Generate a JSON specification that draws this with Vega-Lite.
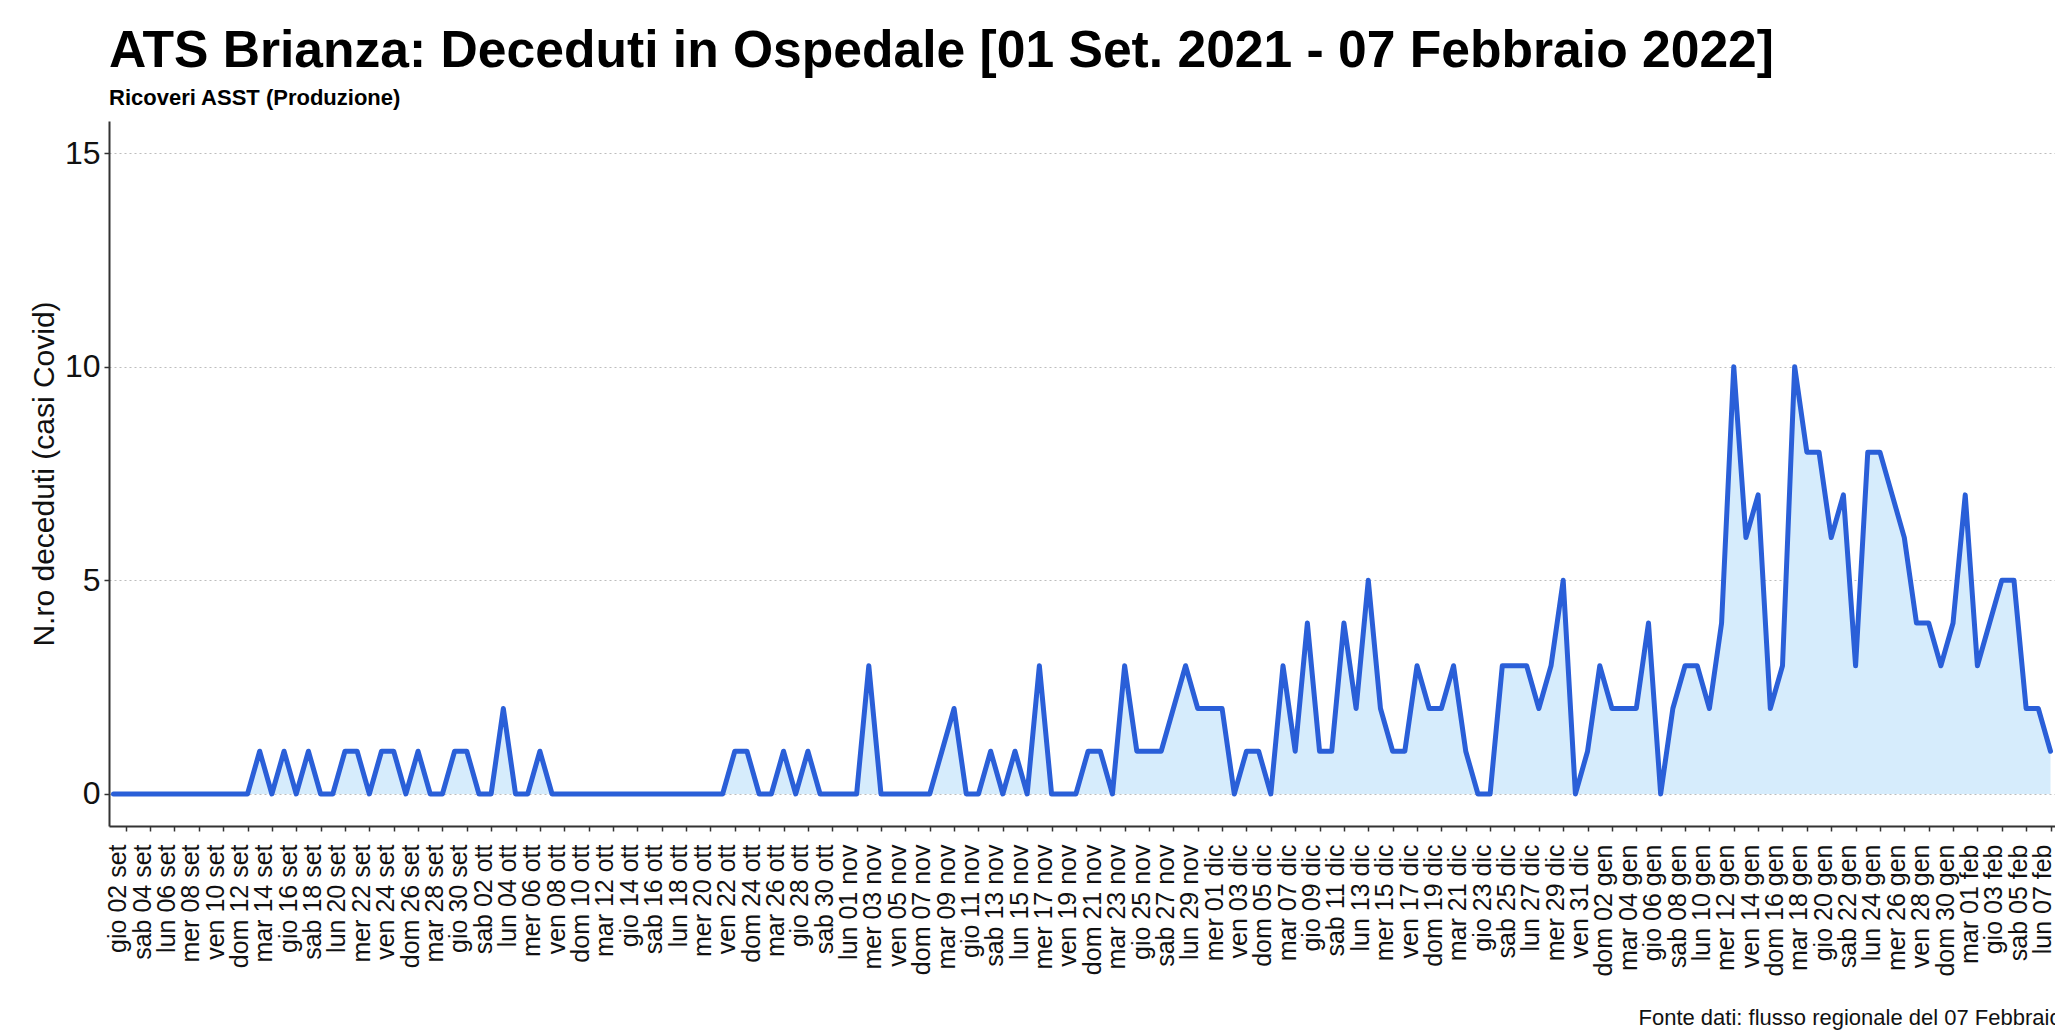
{
"$schema": "https://vega.github.io/schema/vega-lite/v6.json",
"autosize": {"type": "none"},
"padding": {"left": 109, "top": 121, "right": 0, "bottom": 210},
"width": 1946,
"height": 705,
"background": "white",
"config": {"view": {"stroke": null}, "font": "Liberation Sans"},
"title": {"text": "ATS Brianza: Deceduti in Ospedale [01 Set. 2021 - 07 Febbraio 2022]", "subtitle": "Ricoveri ASST (Produzione)", "anchor": "start", "frame": "group", "fontSize": 51.6, "fontWeight": "bold", "color": "#000000", "subtitleFontSize": 22, "subtitleFontWeight": "bold", "subtitleColor": "#000000", "subtitleFont": "Liberation Sans", "font": "Liberation Sans", "offset": 12, "subtitlePadding": 10},
"data": {"values": [
{"giorno":"mer 01 set","deceduti":0},{"giorno":"gio 02 set","deceduti":0},{"giorno":"ven 03 set","deceduti":0},{"giorno":"sab 04 set","deceduti":0},{"giorno":"dom 05 set","deceduti":0},{"giorno":"lun 06 set","deceduti":0},{"giorno":"mar 07 set","deceduti":0},{"giorno":"mer 08 set","deceduti":0},{"giorno":"gio 09 set","deceduti":0},{"giorno":"ven 10 set","deceduti":0},
{"giorno":"sab 11 set","deceduti":0},{"giorno":"dom 12 set","deceduti":0},{"giorno":"lun 13 set","deceduti":1},{"giorno":"mar 14 set","deceduti":0},{"giorno":"mer 15 set","deceduti":1},{"giorno":"gio 16 set","deceduti":0},{"giorno":"ven 17 set","deceduti":1},{"giorno":"sab 18 set","deceduti":0},{"giorno":"dom 19 set","deceduti":0},{"giorno":"lun 20 set","deceduti":1},
{"giorno":"mar 21 set","deceduti":1},{"giorno":"mer 22 set","deceduti":0},{"giorno":"gio 23 set","deceduti":1},{"giorno":"ven 24 set","deceduti":1},{"giorno":"sab 25 set","deceduti":0},{"giorno":"dom 26 set","deceduti":1},{"giorno":"lun 27 set","deceduti":0},{"giorno":"mar 28 set","deceduti":0},{"giorno":"mer 29 set","deceduti":1},{"giorno":"gio 30 set","deceduti":1},
{"giorno":"ven 01 ott","deceduti":0},{"giorno":"sab 02 ott","deceduti":0},{"giorno":"dom 03 ott","deceduti":2},{"giorno":"lun 04 ott","deceduti":0},{"giorno":"mar 05 ott","deceduti":0},{"giorno":"mer 06 ott","deceduti":1},{"giorno":"gio 07 ott","deceduti":0},{"giorno":"ven 08 ott","deceduti":0},{"giorno":"sab 09 ott","deceduti":0},{"giorno":"dom 10 ott","deceduti":0},
{"giorno":"lun 11 ott","deceduti":0},{"giorno":"mar 12 ott","deceduti":0},{"giorno":"mer 13 ott","deceduti":0},{"giorno":"gio 14 ott","deceduti":0},{"giorno":"ven 15 ott","deceduti":0},{"giorno":"sab 16 ott","deceduti":0},{"giorno":"dom 17 ott","deceduti":0},{"giorno":"lun 18 ott","deceduti":0},{"giorno":"mar 19 ott","deceduti":0},{"giorno":"mer 20 ott","deceduti":0},
{"giorno":"gio 21 ott","deceduti":0},{"giorno":"ven 22 ott","deceduti":1},{"giorno":"sab 23 ott","deceduti":1},{"giorno":"dom 24 ott","deceduti":0},{"giorno":"lun 25 ott","deceduti":0},{"giorno":"mar 26 ott","deceduti":1},{"giorno":"mer 27 ott","deceduti":0},{"giorno":"gio 28 ott","deceduti":1},{"giorno":"ven 29 ott","deceduti":0},{"giorno":"sab 30 ott","deceduti":0},
{"giorno":"dom 31 ott","deceduti":0},{"giorno":"lun 01 nov","deceduti":0},{"giorno":"mar 02 nov","deceduti":3},{"giorno":"mer 03 nov","deceduti":0},{"giorno":"gio 04 nov","deceduti":0},{"giorno":"ven 05 nov","deceduti":0},{"giorno":"sab 06 nov","deceduti":0},{"giorno":"dom 07 nov","deceduti":0},{"giorno":"lun 08 nov","deceduti":1},{"giorno":"mar 09 nov","deceduti":2},
{"giorno":"mer 10 nov","deceduti":0},{"giorno":"gio 11 nov","deceduti":0},{"giorno":"ven 12 nov","deceduti":1},{"giorno":"sab 13 nov","deceduti":0},{"giorno":"dom 14 nov","deceduti":1},{"giorno":"lun 15 nov","deceduti":0},{"giorno":"mar 16 nov","deceduti":3},{"giorno":"mer 17 nov","deceduti":0},{"giorno":"gio 18 nov","deceduti":0},{"giorno":"ven 19 nov","deceduti":0},
{"giorno":"sab 20 nov","deceduti":1},{"giorno":"dom 21 nov","deceduti":1},{"giorno":"lun 22 nov","deceduti":0},{"giorno":"mar 23 nov","deceduti":3},{"giorno":"mer 24 nov","deceduti":1},{"giorno":"gio 25 nov","deceduti":1},{"giorno":"ven 26 nov","deceduti":1},{"giorno":"sab 27 nov","deceduti":2},{"giorno":"dom 28 nov","deceduti":3},{"giorno":"lun 29 nov","deceduti":2},
{"giorno":"mar 30 nov","deceduti":2},{"giorno":"mer 01 dic","deceduti":2},{"giorno":"gio 02 dic","deceduti":0},{"giorno":"ven 03 dic","deceduti":1},{"giorno":"sab 04 dic","deceduti":1},{"giorno":"dom 05 dic","deceduti":0},{"giorno":"lun 06 dic","deceduti":3},{"giorno":"mar 07 dic","deceduti":1},{"giorno":"mer 08 dic","deceduti":4},{"giorno":"gio 09 dic","deceduti":1},
{"giorno":"ven 10 dic","deceduti":1},{"giorno":"sab 11 dic","deceduti":4},{"giorno":"dom 12 dic","deceduti":2},{"giorno":"lun 13 dic","deceduti":5},{"giorno":"mar 14 dic","deceduti":2},{"giorno":"mer 15 dic","deceduti":1},{"giorno":"gio 16 dic","deceduti":1},{"giorno":"ven 17 dic","deceduti":3},{"giorno":"sab 18 dic","deceduti":2},{"giorno":"dom 19 dic","deceduti":2},
{"giorno":"lun 20 dic","deceduti":3},{"giorno":"mar 21 dic","deceduti":1},{"giorno":"mer 22 dic","deceduti":0},{"giorno":"gio 23 dic","deceduti":0},{"giorno":"ven 24 dic","deceduti":3},{"giorno":"sab 25 dic","deceduti":3},{"giorno":"dom 26 dic","deceduti":3},{"giorno":"lun 27 dic","deceduti":2},{"giorno":"mar 28 dic","deceduti":3},{"giorno":"mer 29 dic","deceduti":5},
{"giorno":"gio 30 dic","deceduti":0},{"giorno":"ven 31 dic","deceduti":1},{"giorno":"sab 01 gen","deceduti":3},{"giorno":"dom 02 gen","deceduti":2},{"giorno":"lun 03 gen","deceduti":2},{"giorno":"mar 04 gen","deceduti":2},{"giorno":"mer 05 gen","deceduti":4},{"giorno":"gio 06 gen","deceduti":0},{"giorno":"ven 07 gen","deceduti":2},{"giorno":"sab 08 gen","deceduti":3},
{"giorno":"dom 09 gen","deceduti":3},{"giorno":"lun 10 gen","deceduti":2},{"giorno":"mar 11 gen","deceduti":4},{"giorno":"mer 12 gen","deceduti":10},{"giorno":"gio 13 gen","deceduti":6},{"giorno":"ven 14 gen","deceduti":7},{"giorno":"sab 15 gen","deceduti":2},{"giorno":"dom 16 gen","deceduti":3},{"giorno":"lun 17 gen","deceduti":10},{"giorno":"mar 18 gen","deceduti":8},
{"giorno":"mer 19 gen","deceduti":8},{"giorno":"gio 20 gen","deceduti":6},{"giorno":"ven 21 gen","deceduti":7},{"giorno":"sab 22 gen","deceduti":3},{"giorno":"dom 23 gen","deceduti":8},{"giorno":"lun 24 gen","deceduti":8},{"giorno":"mar 25 gen","deceduti":7},{"giorno":"mer 26 gen","deceduti":6},{"giorno":"gio 27 gen","deceduti":4},{"giorno":"ven 28 gen","deceduti":4},
{"giorno":"sab 29 gen","deceduti":3},{"giorno":"dom 30 gen","deceduti":4},{"giorno":"lun 31 gen","deceduti":7},{"giorno":"mar 01 feb","deceduti":3},{"giorno":"mer 02 feb","deceduti":4},{"giorno":"gio 03 feb","deceduti":5},{"giorno":"ven 04 feb","deceduti":5},{"giorno":"sab 05 feb","deceduti":2},{"giorno":"dom 06 feb","deceduti":2},{"giorno":"lun 07 feb","deceduti":1}
]},
"encoding": {
  "x": {"field": "giorno", "type": "ordinal", "sort": null, "scale": {"type": "point", "padding": 0.369},
    "axis": {
      "values": ["gio 02 set","sab 04 set","lun 06 set","mer 08 set","ven 10 set","dom 12 set","mar 14 set","gio 16 set","sab 18 set","lun 20 set","mer 22 set","ven 24 set","dom 26 set","mar 28 set","gio 30 set","sab 02 ott","lun 04 ott","mer 06 ott","ven 08 ott","dom 10 ott","mar 12 ott","gio 14 ott","sab 16 ott","lun 18 ott","mer 20 ott","ven 22 ott","dom 24 ott","mar 26 ott","gio 28 ott","sab 30 ott","lun 01 nov","mer 03 nov","ven 05 nov","dom 07 nov","mar 09 nov","gio 11 nov","sab 13 nov","lun 15 nov","mer 17 nov","ven 19 nov","dom 21 nov","mar 23 nov","gio 25 nov","sab 27 nov","lun 29 nov","mer 01 dic","ven 03 dic","dom 05 dic","mar 07 dic","gio 09 dic","sab 11 dic","lun 13 dic","mer 15 dic","ven 17 dic","dom 19 dic","mar 21 dic","gio 23 dic","sab 25 dic","lun 27 dic","mer 29 dic","ven 31 dic","dom 02 gen","mar 04 gen","gio 06 gen","sab 08 gen","lun 10 gen","mer 12 gen","ven 14 gen","dom 16 gen","mar 18 gen","gio 20 gen","sab 22 gen","lun 24 gen","mer 26 gen","ven 28 gen","dom 30 gen","mar 01 feb","gio 03 feb","sab 05 feb","lun 07 feb"],
      "title": "Fonte dati: flusso regionale del 07 Febbraio 2022",
      "titleX": 1529, "titleY": 191, "titleAlign": "left", "titleAnchor": "start", "titleBaseline": "middle", "titleAngle": 0,
      "titleFontSize": 22, "titleFontWeight": "normal", "titleColor": "#111111", "titleFont": "Liberation Sans",
      "labelAngle": 270, "labelAlign": "right", "labelBaseline": "middle", "labelOffset": -8, "labelPadding": 13,
      "labelFontSize": 25, "labelColor": "#111111", "labelFont": "Liberation Sans", "labelOverlap": false, "labelBound": false, "labelFlush": false,
      "tickSize": 5, "tickColor": "#333333", "tickWidth": 1.5, "domainColor": "#333333", "domainWidth": 2, "grid": false
    }
  },
  "y": {"field": "deceduti", "type": "quantitative", "scale": {"domain": [-0.75, 15.75], "nice": false, "zero": false},
    "axis": {
      "values": [0, 5, 10, 15], "title": "N.ro deceduti (casi Covid)", "titleFontSize": 30, "titleFontWeight": "normal", "titleColor": "#111111", "titleFont": "Liberation Sans", "titlePadding": 5,
      "labelFontSize": 32, "labelColor": "#111111", "labelFont": "Liberation Sans", "labelPadding": 4,
      "tickSize": 5, "tickColor": "#333333", "tickWidth": 1.5, "domainColor": "#333333", "domainWidth": 2,
      "grid": true, "gridColor": "#bdbdbd", "gridDash": [2, 3], "gridWidth": 1.2
    }
  }
},
"layer": [
  {"mark": {"type": "area", "color": "#D6ECFC", "opacity": 1}, "encoding": {"y2": {"datum": 0}}},
  {"mark": {"type": "line", "color": "#2A5FD8", "strokeWidth": 5, "strokeJoin": "round", "strokeCap": "round"}, "encoding": {}}
]
}
